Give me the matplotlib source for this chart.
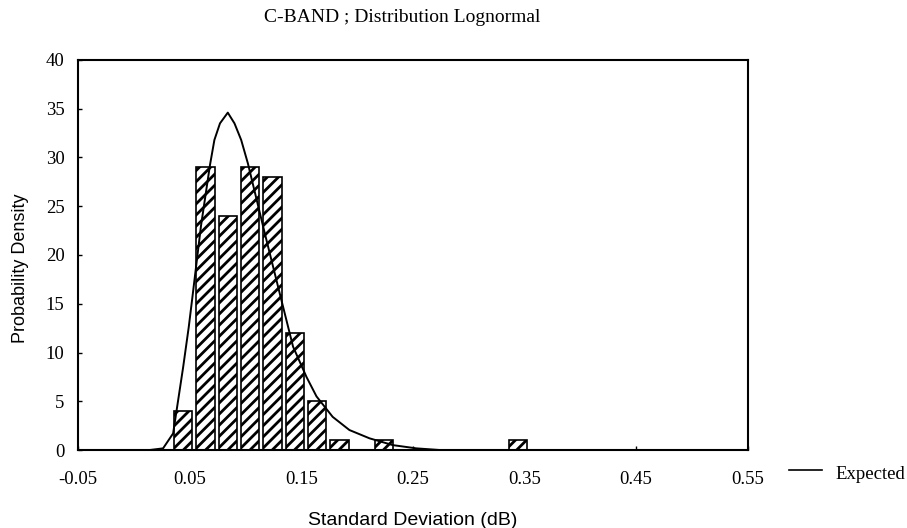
import numpy as np
import matplotlib
matplotlib.use("Agg")
import matplotlib.pyplot as plt
from matplotlib.lines import Line2D

# histogram bins (centre of each bar) and densities
bin_centers = [0.044, 0.064, 0.084, 0.104, 0.124, 0.144, 0.164, 0.184, 0.224, 0.344]
density = [4, 29, 24, 29, 28, 12, 5, 1, 1, 1]

# expected (lognormal) curve
curve_x = [-0.05, 0.014, 0.026, 0.035, 0.044, 0.049, 0.052, 0.060, 0.068, 0.072,
           0.077, 0.084, 0.090, 0.096, 0.102, 0.117, 0.132, 0.1425, 0.1545, 0.1635,
           0.178, 0.193, 0.211, 0.232, 0.253, 0.274, 0.55]
curve_y = [0, 0, 0.17, 1.7, 8.5, 12.6, 15.4, 23.0, 29.2, 31.8,
           33.5, 34.6, 33.5, 31.8, 29.4, 22.3, 15.4, 10.6, 7.5, 5.5,
           3.4, 2.05, 1.2, 0.5, 0.17, 0, 0]

xticks = [-0.05, 0.05, 0.15, 0.25, 0.35, 0.45, 0.55]
yticks = [0, 5, 10, 15, 20, 25, 30, 35, 40]

plt.rcParams['hatch.linewidth'] = 2.0
serif = 'Liberation Serif'
sans = 'Liberation Sans'

fig = plt.figure(figsize=(9.07, 5.28), dpi=100)
ax = fig.add_axes([0.0863, 0.1477, 0.7381, 0.7387])

ax.bar(bin_centers, density, width=0.0165, color='white', edgecolor='black',
       linewidth=1.2, hatch='///', zorder=2)
ax.plot(curve_x, curve_y, color='black', linewidth=1.4, zorder=3)

ax.set_xlim(-0.05, 0.55)
ax.set_ylim(0, 40)
ax.set_xticks(xticks)
ax.set_xticklabels(['-0.05', '0.05', '0.15', '0.25', '0.35', '0.45', '0.55'],
                   fontfamily=serif, fontsize=13.5)
ax.set_yticks(yticks)
ax.set_yticklabels([str(v) for v in yticks], fontfamily=serif, fontsize=13.5)
ax.tick_params(direction='in', length=3, width=1)
ax.tick_params(axis='x', pad=15)
ax.tick_params(axis='y', pad=10)
for s in ax.spines.values():
    s.set_linewidth(1.5)

ax.set_xlabel('Standard Deviation (dB)', fontfamily=sans, fontsize=14)
ax.xaxis.set_label_coords(0.5, (450 - 512) / 390)
ax.set_ylabel('Probability Density', fontfamily=sans, fontsize=13)
ax.yaxis.set_label_coords((29 - 78.3) / 669.4, (450 - 268) / 390)

fig.text(0.443, 0.966, 'C-BAND ; Distribution Lognormal', fontfamily=serif,
         fontsize=14, ha='center', va='center')

# legend outside the axes, bottom right
fig.add_artist(Line2D([0.870, 0.906], [0.110, 0.110], color='black', linewidth=1.2))
fig.text(0.921, 0.093, 'Expected', fontfamily=serif, fontsize=13.5, ha='left', va='baseline')

fig.savefig('out.png', dpi=100)
